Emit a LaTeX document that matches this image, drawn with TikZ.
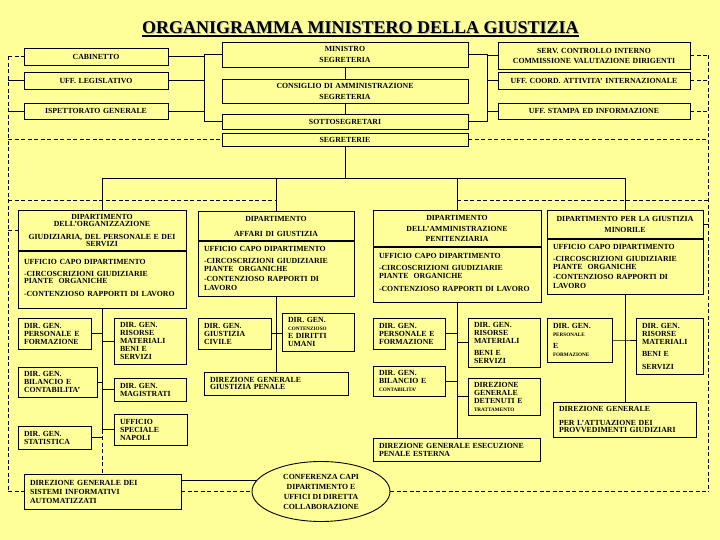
\documentclass[tikz,border=0pt]{standalone}
\usepackage{fontspec}
\setmainfont{Liberation Serif}
\usetikzlibrary{shapes.geometric,calc}
\definecolor{bg}{RGB}{255,255,153}
\newcommand\tinyf{\fontsize{5.2}{8}\selectfont}
\newcommand\mybox[7]{%
  \pgfmathsetmacro\bxw{#4-#2}%
  \pgfmathsetmacro\bxh{#5-#3}%
  \pgfmathsetmacro\bxtw{#4-#2-12}%
  \pgfmathsetmacro\bxcx{(#2+#4)/2}%
  \pgfmathsetmacro\bxcy{(#3+#5)/2}%
  \node[#6, minimum width=\bxw pt, minimum height=\bxh pt, text width=\bxtw pt] (#1) at (\bxcx,\bxcy) {#7};}
\tikzset{
  box/.style={draw, line width=0.9pt, fill=bg, inner xsep=6pt, inner ysep=0pt,
    font=\bfseries\fontsize{7.8}{8}\selectfont},
  cbox/.style={box, align=center},
  lbox/.style={box, align=left},
  ln/.style={line width=0.9pt},
  dsh/.style={line width=0.9pt, dash pattern=on 4pt off 2.5pt},
  sepline/.style={line width=2pt},
  ell/.style={draw, ellipse, line width=0.9pt, fill=bg, inner sep=0pt, minimum width=138pt,
    minimum height=60pt, align=center, font=\bfseries\fontsize{7.8}{9}\selectfont},
  ttl/.style={inner sep=0pt, anchor=base, font=\bfseries\fontsize{18}{18}\selectfont}
}
\begin{document}
\begin{tikzpicture}[x=1pt,y=-1pt]
\fill[bg] (0,0) rectangle (720,540);
\useasboundingbox (0,0) rectangle (720,540);
% title
\node[ttl, text=gray!55] (titleS) at (361.5,35) {ORGANIGRAMMA MINISTERO DELLA GIUSTIZIA};
\node[ttl] (title) at (360.5,34) {ORGANIGRAMMA MINISTERO DELLA GIUSTIZIA};
\draw[line width=1.5pt] ([yshift=-1.8pt]title.base west) -- ([yshift=-1.8pt]title.base east);
% top boxes
\mybox{cab}{24}{48}{168}{65}{cbox}{CABINETTO}
\mybox{leg}{24}{72}{168}{89}{cbox}{UFF. LEGISLATIVO}
\mybox{isp}{24}{103}{168}{119}{cbox}{ISPETTORATO GENERALE}
\mybox{min}{222}{42}{468}{67}{cbox}{MINISTRO\\[3pt]SEGRETERIA}
\mybox{cons}{222}{79}{468}{103}{cbox}{CONSIGLIO DI AMMINISTRAZIONE\\[3pt]SEGRETERIA}
\mybox{sotto}{222}{114}{468}{129}{cbox}{SOTTOSEGRETARI}
\mybox{segr}{222}{133}{468}{146}{cbox}{SEGRETERIE}
\mybox{serv}{498}{42}{690}{69}{cbox}{SERV. CONTROLLO INTERNO\\[2pt]COMMISSIONE VALUTAZIONE DIRIGENTI}
\mybox{coord}{498}{72}{690}{89}{cbox}{UFF. COORD. ATTIVITA' INTERNAZIONALE}
\mybox{stampa}{498}{103}{690}{119}{cbox}{UFF. STAMPA ED INFORMAZIONE}
% departments
\mybox{dorgH}{18}{210}{186}{251}{cbox}{DIPARTIMENTO\\[-0.5pt]DELL'ORGANIZZAZIONE\\[5pt]GIUDIZIARIA, DEL PERSONALE E DEI\\[-1pt]SERVIZI}
\mybox{dorgL}{18}{251}{186}{308}{lbox}{UFFICIO CAPO DIPARTIMENTO\\[4pt]-CIRCOSCRIZIONI GIUDIZIARIE\\[-1pt]PIANTE\ \ ORGANICHE\\[5pt]-CONTENZIOSO RAPPORTI DI LAVORO\\[-4pt]\mbox{}}
\mybox{affH}{198}{211}{354}{241}{cbox}{DIPARTIMENTO\\[7pt]AFFARI DI GIUSTIZIA}
\mybox{affL}{198}{241}{354}{296}{lbox}{UFFICIO CAPO DIPARTIMENTO\\[4pt]-CIRCOSCRIZIONI GIUDIZIARIE\\PIANTE\ \ ORGANICHE\\[2pt]-CONTENZIOSO RAPPORTI DI\\[1pt]LAVORO}
\mybox{penH}{373}{210}{541}{247}{cbox}{DIPARTIMENTO\\[3pt]DELL'AMMINISTRAZIONE\\[2pt]PENITENZIARIA}
\mybox{penL}{373}{247}{541}{302}{lbox}{UFFICIO CAPO DIPARTIMENTO\\[4pt]-CIRCOSCRIZIONI GIUDIZIARIE\\PIANTE\ \ ORGANICHE\\[5pt]-CONTENZIOSO RAPPORTI DI LAVORO\\[-4pt]\mbox{}}
\mybox{minH}{547}{210}{703}{239}{cbox}{DIPARTIMENTO PER LA GIUSTIZIA\\[3pt]MINORILE}
\mybox{minL}{547}{239}{703}{294}{lbox}{UFFICIO CAPO DIPARTIMENTO\\[4pt]-CIRCOSCRIZIONI GIUDIZIARIE\\PIANTE\ \ ORGANICHE\\[2pt]-CONTENZIOSO RAPPORTI DI\\[1pt]LAVORO}
\foreach \d in {dorgH,affH,penH,minH}{\draw[sepline] (\d.south west) -- (\d.south east);}
% DIP ORG subtree
\mybox{d1}{18}{318}{91}{349}{lbox}{DIR. GEN.\\PERSONALE E\\FORMAZIONE}
\mybox{d2}{114}{318}{186}{364}{lbox}{DIR. GEN.\\RISORSE\\MATERIALI\\BENI E\\SERVIZI}
\mybox{d3}{18}{367}{97}{397}{lbox}{DIR. GEN.\\BILANCIO E\\CONTABILITA'}
\mybox{d4}{114}{378}{186}{401}{lbox}{DIR. GEN.\\MAGISTRATI}
\mybox{d5}{18}{426}{91}{449}{lbox}{DIR. GEN.\\STATISTICA}
\mybox{d6}{114}{414}{187}{445}{lbox}{UFFICIO\\SPECIALE\\NAPOLI}
\mybox{sis}{24}{474}{181}{509}{lbox}{DIREZIONE GENERALE DEI\\[1pt]SISTEMI INFORMATIVI\\[1pt]AUTOMATIZZATI}
% AFFARI subtree
\mybox{a1}{198}{318}{271}{349}{lbox}{DIR. GEN.\\GIUSTIZIA\\CIVILE}
\mybox{a2}{282}{313}{354}{351}{lbox}{DIR. GEN.\\{\tinyf CONTENZIOSO}\\E DIRITTI\\UMANI}
\mybox{a3}{204}{372}{348}{395}{lbox}{DIREZIONE GENERALE\\[-1pt]GIUSTIZIA PENALE}
% PENIT subtree
\mybox{p1}{373}{318}{445}{349}{lbox}{DIR. GEN.\\PERSONALE E\\FORMAZIONE}
\mybox{p2}{468}{318}{540}{367}{lbox}{DIR. GEN.\\RISORSE\\MATERIALI\\[4pt]BENI E\\SERVIZI}
\mybox{p3}{373}{366}{445}{396}{lbox}{DIR. GEN.\\BILANCIO E\\{\tinyf CONTABILITA'}}
\mybox{p4}{468}{378}{540}{415}{lbox}{DIREZIONE\\GENERALE\\DETENUTI E\\{\tinyf TRATTAMENTO}}
\mybox{p5}{373}{438}{540}{461}{lbox}{DIREZIONE GENERALE ESECUZIONE\\PENALE ESTERNA}
% MINORILE subtree
\mybox{m1}{547}{318}{612}{362}{lbox}{DIR. GEN.\\{\tinyf PERSONALE}\\[4pt]E\\{\tinyf FORMAZIONE}}
\mybox{m2}{636}{318}{703}{374}{lbox}{DIR. GEN.\\RISORSE\\MATERIALI\\[4pt]BENI E\\[5pt]SERVIZI}
\mybox{m3}{553}{402}{696}{437}{lbox}{DIREZIONE GENERALE\\[6pt]PER L'ATTUAZIONE DEI\\[-1pt]PROVVEDIMENTI GIUDIZIARI}
% conference
\node[ell] (conf) at (321,491.5) {CONFERENZA CAPI\\[1pt]DIPARTIMENTO E\\[1pt]UFFICI DI DIRETTA\\[1pt]COLLABORAZIONE};
% coordinates
\coordinate (bxL) at (204,54);
\coordinate (bxR) at (487,54);
\coordinate (hb) at (346,178);
\coordinate (LT) at (8,56.5);
\coordinate (LB) at (8,491.5);
\coordinate (RT) at (708,55.5);
\coordinate (RB) at (708,491.5);
\coordinate (dh) at (8,200);
% top brackets
\draw[ln] (min.west) -- (min.west -| bxL) |- (sotto.west);
\draw[ln] (cab.east) -- (cab.east -| bxL);
\draw[ln] (leg.east) -- (leg.east -| bxL);
\draw[ln] (isp.east) -- (isp.east -| bxL);
\draw[ln] (min.east) -- (min.east -| bxR) |- (sotto.east);
\draw[ln] (serv.west) -- (serv.west -| bxR);
\draw[ln] (coord.west) -- (coord.west -| bxR);
\draw[ln] (stampa.west) -- (stampa.west -| bxR);
\draw[ln] (min.south) -- (cons.north);
\draw[ln] (cons.south) -- (sotto.north);
% main tree
\draw[ln] (segr.south) -- (segr.south |- hb);
\draw[ln] (dorgH.north |- hb) -- (minH.north |- hb);
\foreach \d in {dorgH,affH,penH,minH}{\draw[ln] (\d.north |- hb) -- (\d.north);}
% DIP ORG connectors
\coordinate (dv) at (dorgL.south |- d6.west);
\draw[ln] (dorgL.south) -- (dv);
\draw[dsh] (dv) -- (dv |- sis.north);
\draw[ln] (d1.east) -- (d1.east -| dv);
\draw[ln] (d2.west) -- (d2.west -| dv);
\draw[ln] (d3.east) -- (d3.east -| dv);
\draw[ln] (d4.west) -- (d4.west -| dv);
\draw[ln] (d5.east) -- (d5.east -| dv);
\draw[ln] (d6.west) -- (dv);
% AFFARI connectors
\draw[ln] (affL.south) -- (affL.south |- a3.north);
\draw[ln] (a1.east) -- (a1.east -| affL.south) -- (a2.west |- a1.east);
% PENIT connectors
\draw[ln] (penL.south) -- (penL.south |- p5.north);
\draw[ln] (p1.east) -- (p1.east -| penL.south);
\draw[ln] (p2.west) -- (p2.west -| penL.south);
\draw[ln] (p3.east) -- (p3.east -| penL.south);
\draw[ln] (p4.west) -- (p4.west -| penL.south);
% MINORILE connectors
\draw[ln] (minL.south) -- (minL.south |- m3.north);
\draw[ln] (m1.east) -- (m1.east -| minL.south) -- (m2.west |- m1.east);
% conference
\draw[ln] (sis.east |- conf.170) -- (conf.170);
% dashed frame
\draw[dsh] (LT) -- (LB);
\draw[dsh] (LT) -- (cab.west);
\draw[ln] (leg.west -| LT) -- (leg.west);
\draw[ln] (isp.west -| LT) -- (isp.west);
\draw[dsh] (segr.west -| LT) -- (segr.west);
\draw[dsh] (dh) -- (affH.north |- dh);
\draw[dsh] (dorgH.west -| LT) -- (dorgH.west);
\draw[dsh] (LB) -- (sis.west);
\draw[dsh] (sis.east) -- (conf.west);
\draw[dsh] (conf.east) -- (RB);
\draw[dsh] (RT) -- (RB);
\draw[dsh] (serv.east) -- (RT);
\draw[dsh] (coord.east) -- (coord.east -| RT);
\draw[dsh] (stampa.east) -- (stampa.east -| RT);
\draw[dsh] (segr.east) -- (segr.east -| RT);
\draw[dsh] (penH.north |- dh) -- (RT |- dh);
\draw[ln] (minH.east) -- (minH.east -| RT);
\end{tikzpicture}
\end{document}
